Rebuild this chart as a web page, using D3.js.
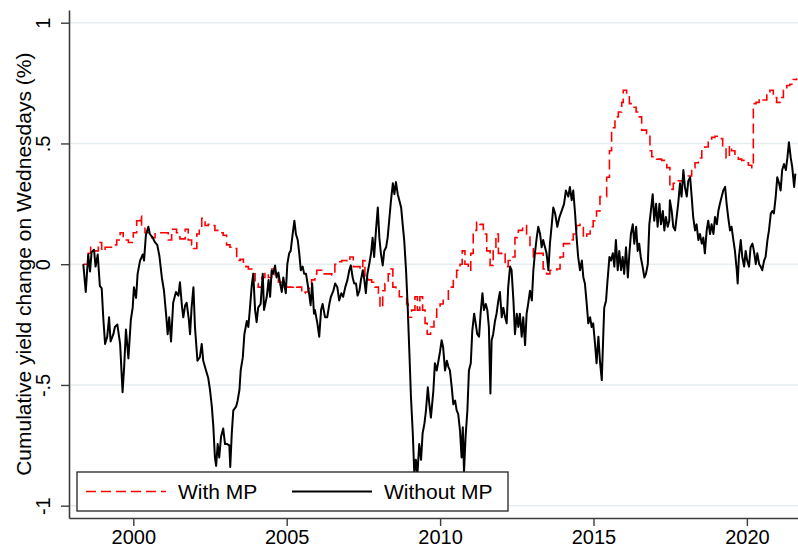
<!DOCTYPE html>
<html>
<head>
<meta charset="utf-8">
<script src="https://cdn.jsdelivr.net/npm/d3@7"></script>
<style>
  body { margin: 0; background: #fff; }
  svg { display: block; font-family: "Liberation Sans", Arial, sans-serif; }
</style>
</head>
<body>
<svg id="chart" width="798" height="548"></svg>
<script>
// cumulative yield change, [year, percent]
const withMP = [
  [1998.37,0],[1998.53,0.045],[1998.61,0.07],[1998.70,0.055],[1998.86,0.09],[1998.97,0.055],[1999.08,0.07],[1999.35,0.08],
  [1999.46,0.10],[1999.57,0.13],[1999.67,0.10],[1999.84,0.09],[2000.00,0.13],[2000.11,0.18],[2000.22,0.20],[2000.27,0.155],
  [2000.38,0.13],[2000.60,0.11],[2000.71,0.13],[2001.14,0.10],[2001.25,0.145],[2001.41,0.13],[2001.52,0.105],[2001.69,0.145],
  [2001.79,0.10],[2001.90,0.08],[2001.96,0.065],[2002.07,0.125],[2002.15,0.145],[2002.23,0.19],[2002.34,0.16],[2002.44,0.165],
  [2002.56,0.16],[2002.66,0.14],[2002.83,0.13],[2002.93,0.12],[2003.04,0.08],[2003.15,0.07],[2003.31,0.065],[2003.37,0.015],
  [2003.48,0.02],[2003.59,-0.005],[2003.67,-0.01],[2003.75,-0.02],[2003.86,-0.04],[2003.97,-0.08],[2004.07,-0.095],[2004.19,-0.055],
  [2004.29,-0.035],[2004.40,-0.055],[2004.51,-0.02],[2004.62,-0.055],[2004.73,-0.075],[2004.89,-0.095],[2005.22,-0.09],[2005.33,-0.095],
  [2005.49,-0.12],[2005.60,-0.115],[2005.70,-0.10],[2005.81,-0.065],[2005.92,-0.04],[2005.98,-0.025],[2006.14,-0.04],[2006.47,-0.045],
  [2006.57,0],[2006.68,0.01],[2006.79,0.015],[2006.96,0.01],[2007.06,0.03],[2007.17,-0.01],[2007.39,-0.02],[2007.48,0.015],
  [2007.55,-0.055],[2007.66,-0.065],[2007.77,-0.075],[2007.88,-0.095],[2007.99,-0.12],[2008.04,-0.18],[2008.13,-0.11],[2008.20,-0.08],
  [2008.31,-0.04],[2008.39,-0.02],[2008.46,-0.095],[2008.56,-0.11],[2008.67,-0.135],[2008.91,-0.165],[2008.96,-0.22],[2009.07,-0.19],
  [2009.18,-0.135],[2009.26,-0.19],[2009.34,-0.135],[2009.43,-0.19],[2009.51,-0.245],[2009.58,-0.29],[2009.69,-0.26],[2009.80,-0.22],
  [2009.89,-0.18],[2010.00,-0.165],[2010.10,-0.15],[2010.27,-0.095],[2010.43,-0.055],[2010.54,-0.025],[2010.65,0],[2010.72,0.055],
  [2010.81,0],[2010.92,-0.025],[2011.00,0.045],[2011.08,0.14],[2011.19,0.175],[2011.30,0.165],[2011.41,0.125],[2011.52,0.055],
  [2011.63,-0.005],[2011.73,0.055],[2011.82,0.125],[2011.90,0.045],[2012.01,0.05],[2012.12,-0.01],[2012.22,0.015],[2012.33,0.03],
  [2012.44,0.11],[2012.55,0.14],[2012.69,0.16],[2012.82,0.125],[2012.93,0.07],[2013.04,0.03],[2013.15,0.045],[2013.36,-0.02],
  [2013.47,-0.04],[2013.58,-0.025],[2013.80,-0.02],[2013.91,0.03],[2014.02,0.085],[2014.23,0.10],[2014.34,0.125],[2014.45,0.16],
  [2014.56,0.165],[2014.67,0.11],[2014.78,0.125],[2014.89,0.155],[2014.99,0.18],[2015.10,0.22],[2015.21,0.28],[2015.43,0.36],
  [2015.52,0.47],[2015.59,0.565],[2015.70,0.61],[2015.81,0.63],[2015.92,0.67],[2015.97,0.72],[2016.08,0.705],[2016.17,0.665],
  [2016.28,0.65],[2016.39,0.63],[2016.49,0.61],[2016.57,0.555],[2016.73,0.54],[2016.84,0.47],[2016.90,0.445],[2017.06,0.435],
  [2017.22,0.43],[2017.39,0.40],[2017.49,0.31],[2017.60,0.335],[2017.76,0.345],[2017.93,0.36],[2018.09,0.365],[2018.20,0.40],
  [2018.31,0.42],[2018.42,0.44],[2018.53,0.47],[2018.63,0.485],[2018.74,0.505],[2018.85,0.525],[2018.96,0.53],[2019.10,0.52],
  [2019.21,0.485],[2019.32,0.44],[2019.43,0.49],[2019.50,0.47],[2019.61,0.455],[2019.72,0.435],[2019.83,0.43],[2019.94,0.42],
  [2020.05,0.41],[2020.16,0.40],[2020.21,0.665],[2020.30,0.67],[2020.40,0.685],[2020.53,0.68],[2020.65,0.71],[2020.75,0.72],
  [2020.86,0.69],[2020.97,0.67],[2021.08,0.69],[2021.19,0.72],[2021.30,0.74],[2021.40,0.745],[2021.51,0.765],[2021.62,0.77]
];

const withoutMP = [
  [1998.37,0],[1998.45,-0.115],[1998.53,0.04],[1998.59,-0.03],[1998.64,0.05],[1998.72,0.06],[1998.77,-0.01],[1998.84,0.04],
  [1998.91,-0.09],[1998.97,-0.10],[1999.02,-0.22],[1999.08,-0.33],[1999.15,-0.30],[1999.21,-0.22],[1999.26,-0.32],[1999.35,-0.29],
  [1999.40,-0.26],[1999.48,-0.25],[1999.57,-0.33],[1999.65,-0.53],[1999.70,-0.43],[1999.76,-0.27],[1999.84,-0.39],[1999.92,-0.23],
  [1999.98,-0.18],[2000.02,-0.095],[2000.09,-0.14],[2000.14,-0.04],[2000.22,0.015],[2000.31,0.04],[2000.35,0.015],[2000.41,0.12],
  [2000.49,0.155],[2000.54,0.125],[2000.63,0.11],[2000.71,0.09],[2000.78,0.08],[2000.85,0.035],[2000.93,-0.055],[2001.00,-0.11],
  [2001.07,-0.21],[2001.12,-0.29],[2001.17,-0.22],[2001.23,-0.32],[2001.30,-0.16],[2001.39,-0.115],[2001.47,-0.13],[2001.52,-0.075],
  [2001.59,-0.18],[2001.63,-0.22],[2001.69,-0.17],[2001.74,-0.16],[2001.81,-0.23],[2001.85,-0.29],[2001.90,-0.18],[2001.96,-0.095],
  [2002.01,-0.26],[2002.09,-0.40],[2002.17,-0.385],[2002.23,-0.33],[2002.28,-0.40],[2002.37,-0.44],[2002.44,-0.47],[2002.50,-0.52],
  [2002.56,-0.59],[2002.61,-0.675],[2002.66,-0.80],[2002.70,-0.835],[2002.75,-0.745],[2002.80,-0.80],[2002.86,-0.715],[2002.93,-0.68],
  [2002.99,-0.745],[2003.06,-0.745],[2003.13,-0.75],[2003.16,-0.84],[2003.21,-0.70],[2003.26,-0.605],[2003.35,-0.59],[2003.40,-0.565],
  [2003.46,-0.52],[2003.50,-0.44],[2003.57,-0.385],[2003.62,-0.29],[2003.70,-0.235],[2003.75,-0.26],[2003.80,-0.185],[2003.86,-0.09],
  [2003.91,-0.04],[2003.97,-0.19],[2004.02,-0.24],[2004.07,-0.18],[2004.15,-0.165],[2004.22,-0.04],[2004.26,-0.19],[2004.35,-0.135],
  [2004.41,-0.065],[2004.46,-0.135],[2004.51,-0.025],[2004.56,-0.04],[2004.62,-0.005],[2004.67,-0.055],[2004.73,-0.035],[2004.78,-0.075],
  [2004.84,-0.115],[2004.89,-0.055],[2004.97,-0.12],[2005.02,0],[2005.08,0.045],[2005.13,0.055],[2005.18,0.11],[2005.25,0.18],
  [2005.30,0.125],[2005.36,0.10],[2005.41,0.045],[2005.46,-0.025],[2005.52,-0.01],[2005.57,-0.04],[2005.63,-0.04],[2005.68,-0.08],
  [2005.74,-0.13],[2005.78,-0.17],[2005.83,-0.08],[2005.89,-0.205],[2005.92,-0.19],[2006.00,-0.245],[2006.06,-0.30],[2006.12,-0.19],
  [2006.17,-0.165],[2006.25,-0.22],[2006.32,-0.22],[2006.39,-0.165],[2006.44,-0.135],[2006.52,-0.11],[2006.58,-0.08],[2006.65,-0.095],
  [2006.71,-0.15],[2006.78,-0.12],[2006.84,-0.135],[2006.91,-0.095],[2006.98,-0.065],[2007.04,-0.025],[2007.09,-0.005],[2007.15,-0.055],
  [2007.20,-0.08],[2007.26,-0.08],[2007.31,-0.13],[2007.37,-0.11],[2007.42,-0.065],[2007.48,-0.025],[2007.53,-0.065],[2007.58,-0.12],
  [2007.63,-0.04],[2007.69,0],[2007.75,0.045],[2007.80,0.11],[2007.85,0.03],[2007.91,0.14],[2007.97,0.235],[2008.02,0.11],
  [2008.07,0.045],[2008.13,-0.005],[2008.18,0.055],[2008.24,0.07],[2008.29,0.11],[2008.34,0.18],[2008.40,0.265],[2008.46,0.335],
  [2008.51,0.29],[2008.56,0.34],[2008.62,0.29],[2008.67,0.265],[2008.73,0.235],[2008.78,0.165],[2008.83,0.10],[2008.89,-0.025],
  [2008.94,-0.165],[2009.00,-0.37],[2009.05,-0.55],[2009.11,-0.70],[2009.16,-0.87],[2009.21,-0.81],[2009.26,-0.87],[2009.32,-0.745],
  [2009.38,-0.81],[2009.43,-0.70],[2009.49,-0.66],[2009.54,-0.605],[2009.60,-0.51],[2009.65,-0.58],[2009.70,-0.635],[2009.78,-0.525],
  [2009.83,-0.41],[2009.89,-0.44],[2009.94,-0.405],[2010.00,-0.36],[2010.05,-0.315],[2010.10,-0.345],[2010.16,-0.44],[2010.22,-0.40],
  [2010.27,-0.425],[2010.32,-0.44],[2010.38,-0.51],[2010.43,-0.58],[2010.49,-0.565],[2010.54,-0.605],[2010.59,-0.62],[2010.65,-0.69],
  [2010.70,-0.80],[2010.74,-0.675],[2010.78,-0.86],[2010.83,-0.715],[2010.89,-0.605],[2010.94,-0.44],[2011.00,-0.41],[2011.05,-0.275],
  [2011.11,-0.205],[2011.16,-0.245],[2011.21,-0.29],[2011.27,-0.30],[2011.32,-0.205],[2011.38,-0.12],[2011.43,-0.19],[2011.49,-0.165],
  [2011.54,-0.19],[2011.59,-0.26],[2011.64,-0.535],[2011.68,-0.315],[2011.73,-0.29],[2011.79,-0.235],[2011.84,-0.205],[2011.90,-0.15],
  [2011.95,-0.115],[2012.01,-0.22],[2012.06,-0.18],[2012.12,-0.22],[2012.17,-0.245],[2012.22,-0.095],[2012.28,-0.01],[2012.33,-0.025],
  [2012.39,-0.15],[2012.44,-0.29],[2012.50,-0.205],[2012.55,-0.26],[2012.60,-0.205],[2012.66,-0.30],[2012.71,-0.22],[2012.77,-0.335],
  [2012.82,-0.205],[2012.87,-0.165],[2012.93,-0.11],[2012.99,-0.15],[2013.04,-0.025],[2013.09,0.045],[2013.15,0.11],[2013.20,0.155],
  [2013.26,0.125],[2013.31,0.07],[2013.36,0.10],[2013.42,0.07],[2013.47,0.045],[2013.53,-0.025],[2013.58,0.085],[2013.64,0.165],
  [2013.69,0.235],[2013.75,0.21],[2013.82,0.155],[2013.89,0.195],[2013.96,0.22],[2014.04,0.25],[2014.10,0.305],[2014.18,0.28],
  [2014.23,0.32],[2014.29,0.265],[2014.34,0.305],[2014.40,0.21],[2014.45,0.11],[2014.50,0.03],[2014.56,-0.025],[2014.62,0.015],
  [2014.67,-0.055],[2014.72,-0.08],[2014.78,-0.165],[2014.83,-0.245],[2014.89,-0.22],[2014.94,-0.26],[2014.99,-0.245],[2015.05,-0.33],
  [2015.10,-0.41],[2015.16,-0.30],[2015.21,-0.40],[2015.27,-0.48],[2015.32,-0.29],[2015.35,-0.18],[2015.41,-0.15],[2015.45,-0.08],
  [2015.52,0.03],[2015.57,0.015],[2015.63,0.045],[2015.68,-0.01],[2015.73,0.10],[2015.79,-0.025],[2015.84,0.055],[2015.90,-0.025],
  [2015.95,0.03],[2016.00,-0.04],[2016.06,0.07],[2016.12,-0.055],[2016.17,0.045],[2016.22,0.125],[2016.28,0.165],[2016.33,0.085],
  [2016.39,0.155],[2016.44,0.055],[2016.49,0.085],[2016.54,0.03],[2016.60,-0.01],[2016.66,-0.055],[2016.71,-0.04],[2016.77,0],
  [2016.82,0.165],[2016.87,0.22],[2016.93,0.29],[2016.98,0.18],[2017.04,0.25],[2017.09,0.155],[2017.15,0.25],[2017.20,0.165],
  [2017.26,0.22],[2017.31,0.14],[2017.36,0.195],[2017.42,0.155],[2017.47,0.18],[2017.49,0.265],[2017.55,0.22],[2017.60,0.155],
  [2017.66,0.14],[2017.71,0.195],[2017.76,0.25],[2017.82,0.335],[2017.87,0.28],[2017.93,0.39],[2017.98,0.32],[2018.04,0.28],
  [2018.09,0.345],[2018.15,0.36],[2018.20,0.28],[2018.25,0.195],[2018.31,0.14],[2018.36,0.165],[2018.42,0.10],[2018.47,0.125],
  [2018.53,0.085],[2018.58,0.11],[2018.63,0.045],[2018.69,0.14],[2018.74,0.18],[2018.80,0.125],[2018.85,0.165],[2018.91,0.125],
  [2018.96,0.195],[2019.02,0.165],[2019.07,0.22],[2019.12,0.25],[2019.18,0.28],[2019.23,0.305],[2019.29,0.32],[2019.34,0.25],
  [2019.39,0.195],[2019.45,0.14],[2019.50,0.155],[2019.56,0.10],[2019.61,0.055],[2019.67,-0.025],[2019.70,-0.08],[2019.74,0.03],
  [2019.80,0.10],[2019.85,0.03],[2019.91,-0.01],[2019.96,0.055],[2020.01,0.015],[2020.07,-0.01],[2020.12,0.07],[2020.18,0.085],
  [2020.23,0.055],[2020.29,0],[2020.34,0.045],[2020.40,0],[2020.45,-0.01],[2020.50,-0.025],[2020.56,0.015],[2020.61,0.03],
  [2020.67,0.10],[2020.72,0.14],[2020.78,0.21],[2020.83,0.22],[2020.88,0.21],[2020.94,0.28],[2020.99,0.36],[2021.05,0.335],
  [2021.10,0.305],[2021.15,0.39],[2021.21,0.415],[2021.27,0.39],[2021.32,0.44],[2021.37,0.505],[2021.43,0.44],[2021.48,0.40],
  [2021.54,0.32],[2021.58,0.375]
];

const yTicks = [-1, -0.5, 0, 0.5, 1];
const yTickLabels = ["-1", "-.5", "0", ".5", "1"];
const xTicks = [2000, 2005, 2010, 2015, 2020];
const legendLabels = ["With MP", "Without MP"];
const yTitle = "Cumulative yield change on Wednesdays (%)";

const svg = d3.select("#chart");
const width = +svg.attr("width");
const height = +svg.attr("height");
const margin = { top: 10, right: 0, bottom: 30, left: 69 };

const xScale = d3.scaleLinear()
  .domain([1997.904, 2021.666])
  .range([margin.left, width - margin.right]);
const yScale = d3.scaleLinear()
  .domain([-1.051, 1.0526])
  .range([height - margin.bottom, margin.top]);

// gridlines
svg.append("g")
  .selectAll("line")
  .data(yTicks)
  .join("line")
  .attr("x1", margin.left)
  .attr("x2", width - margin.right)
  .attr("y1", (d) => yScale(d))
  .attr("y2", (d) => yScale(d))
  .attr("stroke", "#e6edf1")
  .attr("stroke-width", 1.5);

// series
const line = d3.line()
  .x((d) => xScale(d[0]))
  .y((d) => yScale(d[1]));

svg.append("path")
  .datum(withMP)
  .attr("fill", "none")
  .attr("stroke", "#ff0000")
  .attr("stroke-width", 1.6)
  .attr("stroke-dasharray", "10,5")
  .attr("d", line.curve(d3.curveStepAfter));

svg.append("path")
  .datum(withoutMP)
  .attr("fill", "none")
  .attr("stroke", "#000")
  .attr("stroke-width", 2)
  .attr("stroke-linejoin", "round")
  .attr("d", line.curve(d3.curveLinear));

// axes
const yAxis = d3.axisLeft(yScale)
  .tickValues(yTicks)
  .tickFormat((d, i) => yTickLabels[i])
  .tickSize(8)
  .tickSizeOuter(0);
const yAxisG = svg.append("g")
  .attr("transform", `translate(${margin.left},0)`)
  .call(yAxis);
yAxisG.selectAll("text")
  .attr("transform", "rotate(-90)")
  .attr("x", 0)
  .attr("y", -19)
  .attr("dy", 0)
  .attr("text-anchor", "middle");

const xAxis = d3.axisBottom(xScale)
  .tickValues(xTicks)
  .tickFormat(d3.format("d"))
  .tickSize(8)
  .tickPadding(4)
  .tickSizeOuter(0);
const xAxisG = svg.append("g")
  .attr("transform", `translate(0,${height - margin.bottom})`)
  .call(xAxis);

[yAxisG, xAxisG].forEach((g) => {
  g.select(".domain").attr("stroke", "#3c3c3c").attr("stroke-width", 1.6);
  g.selectAll(".tick line").attr("stroke", "#3c3c3c").attr("stroke-width", 1.4);
  g.selectAll("text")
    .attr("fill", "#000")
    .style("font-family", "'Liberation Sans', Arial, sans-serif")
    .style("font-size", "20px");
});

svg.append("text")
  .attr("transform", `translate(31,${yScale(0)}) rotate(-90)`)
  .attr("text-anchor", "middle")
  .style("font-size", "21px")
  .text(yTitle);

// legend
const legend = svg.append("g");
legend.append("rect")
  .attr("x", 77)
  .attr("y", 472)
  .attr("width", 431)
  .attr("height", 39)
  .attr("fill", "#fff")
  .attr("stroke", "#222")
  .attr("stroke-width", 1.3);

const legendItems = [
  { label: legendLabels[0], color: "#ff0000", dash: "10,5", x: 86, width: 1.6 },
  { label: legendLabels[1], color: "#000", dash: null, x: 292, width: 2 }
];
legendItems.forEach((item) => {
  legend.append("line")
    .attr("x1", item.x)
    .attr("x2", item.x + 80)
    .attr("y1", 491.5)
    .attr("y2", 491.5)
    .attr("stroke", item.color)
    .attr("stroke-width", item.width)
    .attr("stroke-dasharray", item.dash);
  legend.append("text")
    .attr("x", item.x + 92)
    .attr("y", 499)
    .style("font-size", "21px")
    .text(item.label);
});
</script>
</body>
</html>
